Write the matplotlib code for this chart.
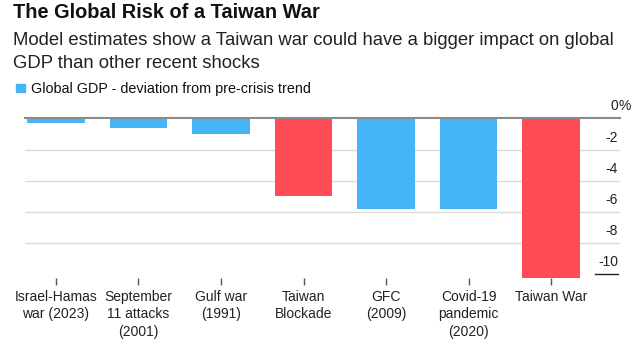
import matplotlib.pyplot as plt
from matplotlib.patches import Rectangle
from matplotlib.transforms import offset_copy

plt.rcParams['font.family'] = ['Liberation Sans', 'DejaVu Sans']

# data
events = ['Israel-Hamas\nwar (2023)', 'September\n11 attacks\n(2001)', 'Gulf war\n(1991)',
          'Taiwan\nBlockade', 'GFC\n(2009)', 'Covid-19\npandemic\n(2020)', 'Taiwan War']
gdp_dev = [-0.3, -0.6, -1.0, -5.0, -5.8, -5.8, -10.2]
is_taiwan = [False, False, False, True, False, False, True]
y_ticks = [0, -2, -4, -6, -8, -10]
y_labels = ['0', '-2', '-4', '-6', '-8', '-10']

blue = '#45b5f8'
red = '#ff4b55'

W, H = 638, 351
fig = plt.figure(figsize=(W / 100, H / 100), dpi=100)


def fx(px):
    return px / W


def fy(px):
    return 1 - px / H


# header texts
fig.text(fx(13), fy(17.5), 'The Global Risk of a Taiwan War', fontsize=14.4,
         fontweight='bold', va='baseline', color='#111111')
fig.text(fx(13), fy(45), 'Model estimates show a Taiwan war could have a bigger impact on global',
         fontsize=13.35, va='baseline', color='#222222')
fig.text(fx(13), fy(67.7), 'GDP than other recent shocks',
         fontsize=13.35, va='baseline', color='#222222')
fig.patches.append(Rectangle((fx(16), fy(92)), fx(9), 8 / H, color=blue,
                             transform=fig.transFigure, figure=fig))
fig.text(fx(31), fy(92.5), 'Global GDP - deviation from pre-crisis trend',
         fontsize=10.4, va='baseline', color='#111111')

# bars
ax = fig.add_axes([fx(25), fy(277.5), fx(620) - fx(25), fy(118.3) - fy(277.5)])
x = list(range(len(events)))
colors = [red if t else blue for t in is_taiwan]
ax.bar(x, gdp_dev, width=0.7, color=colors, zorder=2)
ax.set_xlim(-0.375, 6.835)
ax.set_ylim(min(gdp_dev), 0)

for v in y_ticks[1:-1]:
    ax.axhline(v, color='#dcdcdc', lw=1, zorder=1)
ax.axhline(0, color='#8a8a8a', lw=1.5, zorder=3, clip_on=False)
ytr = ax.get_yaxis_transform()
ax.plot([0.958, 0.997], [y_ticks[-1]] * 2, color='#222222', lw=1, transform=ytr)

lab_tr = offset_copy(ytr, fig=fig, y=12, units='dots')
for v, s in zip(y_ticks, y_labels):
    ax.text(0.997, v, s, transform=lab_tr, ha='right', va='center',
            fontsize=10, color='#222222')
ax.text(0.997, 0, '%', transform=lab_tr, ha='left', va='center',
        fontsize=10, color='#222222')

ax.set_xticks(x)
ax.set_xticklabels(events, linespacing=1.3, fontsize=10, color='#222222')
ax.tick_params(axis='x', length=5, width=1, color='#555555', pad=4)
ax.set_yticks([])
for sp in ax.spines.values():
    sp.set_visible(False)

fig.savefig('out.png', dpi=100)
